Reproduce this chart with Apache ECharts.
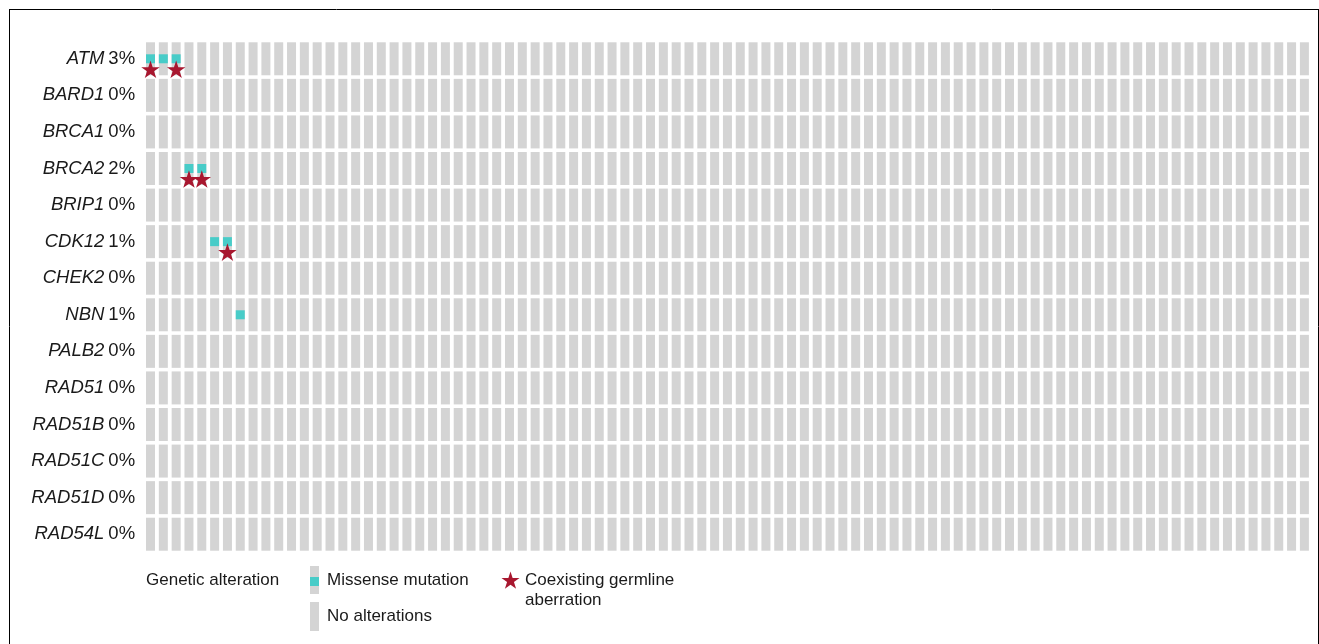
<!DOCTYPE html>
<html>
<head>
<meta charset="utf-8">
<script src="https://cdn.jsdelivr.net/npm/echarts@6/dist/echarts.min.js"></script>
<style>
html,body{margin:0;padding:0;background:#fff;}
#chart{width:1319px;height:644px;}
</style>
</head>
<body>
<div id="chart"></div>
<script>
// ---- data ----
const genes = ['ATM','BARD1','BRCA1','BRCA2','BRIP1','CDK12','CHEK2','NBN','PALB2','RAD51','RAD51B','RAD51C','RAD51D','RAD54L'];
const percents = ['3%','0%','0%','2%','0%','1%','0%','1%','0%','0%','0%','0%','0%','0%'];
const sampleCount = 91;
const samples = Array.from({length: sampleCount}, (_, i) => 'S' + (i + 1));
// [sample index, gene]
const missense = [[0,'ATM'],[1,'ATM'],[2,'ATM'],[3,'BRCA2'],[4,'BRCA2'],[5,'CDK12'],[6,'CDK12'],[7,'NBN']];
const germline = [[0,'ATM'],[2,'ATM'],[3,'BRCA2'],[4,'BRCA2'],[6,'CDK12']];

const GRAY = '#d4d4d4', CYAN = '#48ccc8', RED = '#a8172f', TXT = '#1a1a1a';
const STAR = 'path://M50 0 L61.23 34.55 L97.55 34.55 L68.17 55.9 L79.39 90.45 L50 69.1 L20.61 90.45 L31.83 55.9 L2.45 34.55 L38.77 34.55 Z';

const cells = [];
genes.forEach(g => samples.forEach(s => cells.push([s, g])));
const missData = missense.map(d => [samples[d[0]], d[1]]);
const germData = germline.map(d => [samples[d[0]], d[1]]);

const pctMap = {};
genes.forEach((g, i) => pctMap[g] = percents[i]);

function starPoints(cx, cy, R) {
  const pts = [];
  for (let k = 0; k < 10; k++) {
    const r = k % 2 === 0 ? R : R * 0.382;
    const a = (-90 + 36 * k) * Math.PI / 180;
    pts.push([cx + r * Math.cos(a), cy + r * Math.sin(a)]);
  }
  return pts;
}

const FONT = '"Liberation Sans", Arial, sans-serif';
const LF = '17px ' + FONT;
const YS = 18.5;

const chart = echarts.init(document.getElementById('chart'), null, {renderer: 'canvas'});
chart.setOption({
  animation: false,
  backgroundColor: '#fff',
  grid: {left: 144.1, top: 40.5, width: 1166.7, height: 512},
  xAxis: {
    type: 'category', data: samples, boundaryGap: true,
    axisLine: {show: false}, axisTick: {show: false}, axisLabel: {show: false}, splitLine: {show: false}
  },
  yAxis: {
    type: 'category', data: genes, inverse: true, boundaryGap: true,
    axisLine: {show: false}, axisTick: {show: false}, splitLine: {show: false},
    axisLabel: {
      margin: 9, align: 'right',
      formatter: v => '{g|' + v + '}{s| }{p|' + pctMap[v] + '}',
      rich: {
        g: {fontFamily: FONT, fontSize: YS, fontStyle: 'italic', color: TXT},
        s: {fontFamily: FONT, fontSize: YS, color: TXT, width: 4},
        p: {fontFamily: FONT, fontSize: YS, color: TXT}
      }
    }
  },
  series: [
    {type: 'scatter', data: cells, symbol: 'rect', symbolSize: [9, 33],
     itemStyle: {color: GRAY, opacity: 1}, silent: true, z: 1},
    {type: 'scatter', data: missData, symbol: 'rect', symbolSize: [9, 9],
     itemStyle: {color: CYAN, opacity: 1}, silent: true, z: 2},
    {type: 'scatter', data: germData, symbol: STAR, symbolSize: [18.5, 17.6], symbolOffset: [0, 10.5],
     itemStyle: {color: RED, opacity: 1}, silent: true, z: 3}
  ],
  graphic: [
    {type: 'line', shape: {x1: 9, y1: 9.5, x2: 1319, y2: 9.5}, style: {stroke: '#000', lineWidth: 1}, silent: true},
    {type: 'line', shape: {x1: 9.5, y1: 9, x2: 9.5, y2: 644}, style: {stroke: '#000', lineWidth: 1}, silent: true},
    {type: 'line', shape: {x1: 1318.5, y1: 9, x2: 1318.5, y2: 644}, style: {stroke: '#000', lineWidth: 1}, silent: true},
    {type: 'text', x: 146, y: 580, style: {text: 'Genetic alteration', font: LF, fill: TXT, verticalAlign: 'middle'}},
    {type: 'rect', shape: {x: 310, y: 566, width: 9, height: 28}, style: {fill: GRAY}},
    {type: 'rect', shape: {x: 310, y: 577, width: 9, height: 9}, style: {fill: CYAN}},
    {type: 'text', x: 327, y: 580, style: {text: 'Missense mutation', font: LF, fill: TXT, verticalAlign: 'middle'}},
    {type: 'rect', shape: {x: 310, y: 602, width: 9, height: 29}, style: {fill: GRAY}},
    {type: 'text', x: 327, y: 616, style: {text: 'No alterations', font: LF, fill: TXT, verticalAlign: 'middle'}},
    {type: 'polygon', shape: {points: starPoints(510.5, 581, 9.5)}, style: {fill: RED}},
    {type: 'text', x: 525, y: 580, style: {text: 'Coexisting germline', font: LF, fill: TXT, verticalAlign: 'middle'}},
    {type: 'text', x: 525, y: 600, style: {text: 'aberration', font: LF, fill: TXT, verticalAlign: 'middle'}}
  ]
});
</script>
</body>
</html>
